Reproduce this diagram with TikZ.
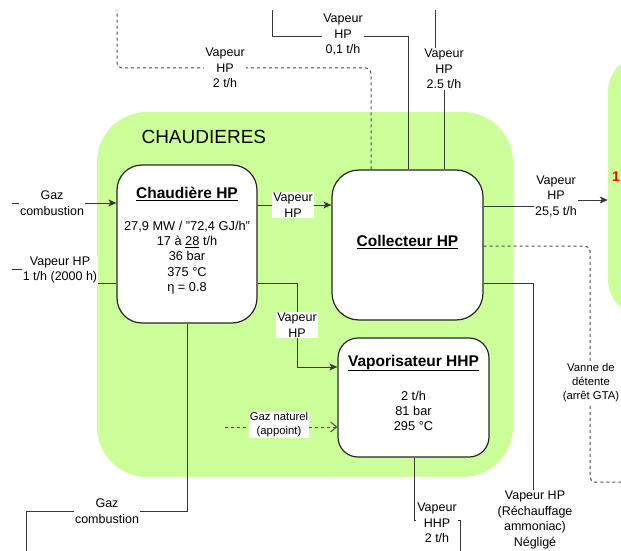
\documentclass[tikz,border=0pt]{standalone}
\usepackage{fontspec}
\setmainfont{Liberation Sans}
\usetikzlibrary{arrows.meta}
\definecolor{grn}{HTML}{CCFF99}
\begin{document}
\begin{tikzpicture}[x=1pt,y=-1pt,
  lbl/.style={font=\fontsize{12.5}{15.5}\selectfont, align=center, fill=white, inner sep=1pt},
  lbls/.style={font=\fontsize{11.3}{14}\selectfont, align=center, fill=white, inner sep=1pt},
  boxn/.style={draw=black!85, line width=1.2pt, fill=white, inner sep=0pt},
  conn/.style={draw=black!78, line width=1pt},
  dsh/.style={draw=black!70, line width=1pt, dash pattern=on 3pt off 3pt, rounded corners=5pt},
  arr/.style={-{Stealth[length=8pt,width=7pt,inset=2pt]}},
  oarr/.style={-{Straight Barb[length=6pt,width=10pt]}},
  ttl/.style={font=\fontsize{15.5}{18}\selectfont\bfseries},
  body/.style={font=\fontsize{12.8}{15.3}\selectfont, align=center},
  cont/.style={fill=grn, inner sep=0pt},
]
\useasboundingbox (0,0) rectangle (621,551);
\clip (0,0) rectangle (621,551);
\fill[white] (0,0) rectangle (621,551);
% containers
\node[cont, rounded corners=50pt, minimum width=416pt, minimum height=365pt] (chaudieres) at (305,294.5) {};
\node[cont, rounded corners=38pt, minimum width=112pt, minimum height=263pt] (rcont) at (664,185.5) {};
\node[font=\fontsize{19}{22}\selectfont, anchor=west] (ctitle) at (138,137) {CHAUDIERES};
\node[text=red, font=\fontsize{14}{16}\selectfont\bfseries] (r1) at (616,177) {1};
% boxes
\node[boxn, rounded corners=25pt, minimum width=140pt, minimum height=158pt] (chaud) at (187,244) {};
\node[boxn, rounded corners=27pt, minimum width=151pt, minimum height=150pt] (coll) at (407.5,245) {};
\node[boxn, rounded corners=20pt, minimum width=151pt, minimum height=119pt] (vap) at (413.5,397.5) {};
\node[ttl] (chaudT) at (187,194) {\underline{Chaudière HP}};
\node[body] (chaudB) at (187,257.5) {27,9 MW / "72,4 GJ/h"\\17 à \underline{28} t/h\\36 bar\\375 °C\\η = 0.8};
\node[ttl] (collT) at (407.5,242) {\underline{Collecteur HP}};
\node[ttl] (vapT) at (413.5,363) {\underline{Vaporisateur HHP}};
\node[body] (vapB) at (413.5,411) {2 t/h\\81 bar\\295 °C};
% free ends
\coordinate (gin) at (12,203);
\coordinate (vin) at (12,269);
\coordinate (gout) at (26,560);
\coordinate (top1) at (117,10);
\coordinate (top2) at (272,10);
\coordinate (top3) at (435,10);
\coordinate (vanne) at (630,482);
\coordinate (rech) at (533,490);
\coordinate (hhp) at (460,560);
\coordinate (gn) at (225,427);
% connectors
\draw[conn,arr] (gin) -- (chaud.west |- gin);
\draw[conn] (vin) -- (30,269) -- (30,283) -- (chaud.west |- 0,283);
\draw[conn,arr] (chaud.east |- 0,205) -- (coll.west |- 0,205);
\draw[conn,arr] (chaud.east |- 0,283) -| (297,367) -- (vap.west |- 0,367);
\draw[dsh,oarr] (gn) -- (vap.west |- gn);
\draw[conn] (chaud.south) -- (187,511) -- (26,511) -- (gout);
\draw[dsh] (coll.north -| 371,0) -- (371,68) -- (117,68) -- (top1);
\draw[conn] (coll.north -| 408,0) -- (408,37) -- (272,37) -- (top2);
\draw[conn] (coll.north -| 444,0) -- (444,70) -- (435,70) -- (top3);
\draw[conn,arr] (coll.east |- 0,206) -- (540,206) -- (540,200) -- (rcont.west |- 0,200);
\draw[dsh] (coll.east |- 0,246) -- (590,246) -- (590,482) -- (vanne);
\draw[conn] (coll.east |- 0,283) -- (533,283) -- (rech);
\draw[conn] (vap.south -| 414,0) -- (414,520) -- (460,520) -- (hhp);
% labels
\node[lbl] (lgaz1) at (52,203) {Gaz\\combustion};
\node[lbl] (lvhp1) at (60,270) {Vapeur HP\\1 t/h (2000 h)};
\node[lbl] (lvhp2) at (293,205) {Vapeur\\HP};
\node[lbl] (lvhp3) at (297,325) {Vapeur\\HP};
\node[lbls] (lgn) at (279,425) {Gaz naturel\\(appoint)};
\node[lbl] (lgaz2) at (107,511) {Gaz\\combustion};
\node[lbl] (ltop1) at (225,68) {Vapeur\\HP\\2 t/h};
\node[lbl] (ltop2) at (343,35) {Vapeur\\HP\\0,1 t/h};
\node[lbl] (ltop3) at (444,69) {Vapeur\\HP\\2.5 t/h};
\node[lbl] (lout) at (556,196) {Vapeur\\HP\\25,5 t/h};
\node[lbls] (lvanne) at (591,383) {Vanne de\\détente\\(arrêt GTA)};
\node[lbl] (lrech) at (535,520) {Vapeur HP\\(Réchauffage\\ammoniac)\\Négligé};
\node[lbl] (lhhp) at (437,523) {Vapeur\\HHP\\2 t/h};
\end{tikzpicture}
\end{document}
